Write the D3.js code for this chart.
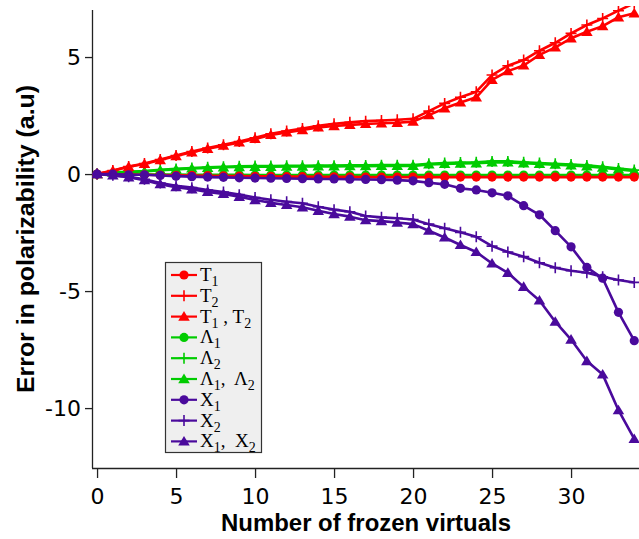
<!DOCTYPE html>
<html><head><meta charset="utf-8">
<script src="https://cdn.jsdelivr.net/npm/d3@7"></script>
<style>body{margin:0;background:#fff}svg{display:block}</style>
</head><body><svg id="c" width="639" height="539"></svg>
<script>
const xs = d3.range(0, 35);
const xTicks = [0, 5, 10, 15, 20, 25, 30];
const yTicks = [-10, -5, 0, 5];

const T1 = [0,-0.01,-0.02,-0.03,-0.04,-0.05,-0.06,-0.07,-0.08,-0.09,-0.1,-0.1,-0.11,-0.11,-0.12,-0.12,-0.12,-0.13,-0.13,-0.13,-0.13,-0.13,-0.13,-0.13,-0.13,-0.13,-0.13,-0.13,-0.13,-0.13,-0.13,-0.13,-0.13,-0.13,-0.13];
const T2 = [0,0.15,0.32,0.45,0.62,0.79,0.96,1.11,1.25,1.39,1.55,1.72,1.84,1.95,2.06,2.15,2.21,2.26,2.29,2.32,2.36,2.69,3.02,3.28,3.52,4.23,4.63,4.87,5.27,5.61,6.01,6.37,6.65,6.98,7.3];
const T12 = [0,0.14,0.31,0.43,0.6,0.77,0.93,1.08,1.21,1.35,1.5,1.67,1.78,1.88,1.99,2.05,2.1,2.14,2.17,2.19,2.24,2.52,2.81,3.06,3.28,4.02,4.4,4.64,5.09,5.41,5.8,6.08,6.32,6.7,6.87];
const L1 = [0,-0.01,-0.01,-0.02,-0.02,-0.02,-0.03,-0.03,-0.03,-0.03,-0.04,-0.04,-0.04,-0.04,-0.04,-0.04,-0.04,-0.04,-0.04,-0.04,-0.04,-0.04,-0.04,-0.04,-0.04,-0.04,-0.04,-0.04,-0.04,-0.04,-0.04,-0.04,-0.04,-0.04,-0.04];
const L2 = [0,0.07,0.1,0.13,0.18,0.22,0.26,0.29,0.31,0.33,0.34,0.34,0.35,0.35,0.36,0.36,0.37,0.37,0.38,0.38,0.38,0.44,0.47,0.49,0.5,0.54,0.54,0.5,0.47,0.44,0.41,0.37,0.31,0.24,0.17];
const L12 = [0,0.06,0.09,0.11,0.16,0.2,0.24,0.26,0.29,0.3,0.31,0.31,0.32,0.32,0.33,0.33,0.34,0.34,0.35,0.35,0.35,0.41,0.43,0.45,0.46,0.5,0.5,0.46,0.43,0.4,0.37,0.33,0.27,0.2,0.13];
const X1 = [0,0,-0.03,-0.03,-0.06,-0.09,-0.11,-0.13,-0.14,-0.16,-0.17,-0.18,-0.19,-0.2,-0.21,-0.21,-0.22,-0.23,-0.24,-0.26,-0.29,-0.37,-0.44,-0.61,-0.68,-0.8,-0.93,-1.35,-1.74,-2.42,-3.11,-3.99,-4.45,-5.91,-7.12];
const X2 = [0,-0.05,-0.12,-0.22,-0.38,-0.5,-0.58,-0.68,-0.77,-0.88,-1.0,-1.1,-1.18,-1.25,-1.4,-1.52,-1.61,-1.79,-1.85,-1.89,-1.94,-2.14,-2.32,-2.49,-2.68,-3.08,-3.33,-3.53,-3.79,-4.0,-4.13,-4.22,-4.39,-4.53,-4.63];
const X12 = [0,-0.06,-0.14,-0.26,-0.43,-0.56,-0.65,-0.76,-0.85,-0.97,-1.11,-1.23,-1.32,-1.42,-1.57,-1.71,-1.82,-1.97,-2.01,-2.07,-2.14,-2.42,-2.71,-3.03,-3.33,-3.82,-4.22,-4.82,-5.4,-6.31,-7.07,-7.99,-8.56,-10.09,-11.32];

const RED = "#ff0000", GREEN = "#00cc00", PURPLE = "#4a0a9c";
const series = [
  {name:["T","1"], vals:T1, color:RED, marker:"circle"},
  {name:["T","2"], vals:T2, color:RED, marker:"plus"},
  {name:["T","1"," , ","T","2"], vals:T12, color:RED, marker:"triangle"},
  {name:["Λ","1"], vals:L1, color:GREEN, marker:"circle"},
  {name:["Λ","2"], vals:L2, color:GREEN, marker:"plus"},
  {name:["Λ","1",",  ","Λ","2"], vals:L12, color:GREEN, marker:"triangle"},
  {name:["X","1"], vals:X1, color:PURPLE, marker:"circle"},
  {name:["X","2"], vals:X2, color:PURPLE, marker:"plus"},
  {name:["X","1",",  ","X","2"], vals:X12, color:PURPLE, marker:"triangle"}
];
const drawOrder = [3,4,5,0,1,2,6,7,8];

const svg = d3.select("#c");
const L = 92, R = 639, T = 10, B = 468;
const x = d3.scaleLinear().domain([-0.32, 34.3]).range([L, R]);
const y = d3.scaleLinear().domain([-12.56, 7.01]).range([B, T]);

svg.append("defs").append("clipPath").attr("id","clip")
  .append("rect").attr("x", L).attr("y", 6).attr("width", R - L).attr("height", B - 6);

// axes
const xAxis = svg.append("g").attr("transform", `translate(0,${B})`)
  .call(d3.axisBottom(x).tickValues(xTicks).tickSize(10).tickPadding(10).tickSizeOuter(0).tickFormat(d => String(d)));
const yAxis = svg.append("g").attr("transform", `translate(${L},0)`)
  .call(d3.axisLeft(y).tickValues(yTicks).tickSize(7).tickPadding(4).tickSizeOuter(0).tickFormat(d => String(d)));
[xAxis, yAxis].forEach(g => {
  g.select(".domain").attr("stroke", "#222").attr("stroke-width", 1.3);
  g.selectAll(".tick line").attr("stroke", "#222").attr("stroke-width", 1.3);
  g.selectAll(".tick text").attr("font-family", "'DejaVu Sans', sans-serif")
    .attr("font-size", 22).attr("fill", "#000");
});
xAxis.select(".domain").attr("d", `M${L},0.5H${R}`);
yAxis.select(".domain").attr("d", `M0.5,${T}V${B}`);

svg.append("text").attr("x", 366).attr("y", 531).attr("text-anchor","middle")
  .attr("font-family","'Liberation Sans Narrow','Liberation Sans',Arial,sans-serif")
  .attr("font-weight","bold").attr("font-size", 24)
  .attr("textLength", 290).attr("lengthAdjust","spacingAndGlyphs")
  .text("Number of frozen virtuals");
svg.append("text").attr("transform","translate(34,239) rotate(-90)").attr("text-anchor","middle")
  .attr("font-family","'Liberation Sans Narrow','Liberation Sans',Arial,sans-serif")
  .attr("font-weight","bold").attr("font-size", 24)
  .attr("textLength", 308).attr("lengthAdjust","spacingAndGlyphs")
  .text("Error in polarizability (a.u)");

function drawMarker(g, type, cx, cy, color, scale) {
  const s = scale || 1;
  if (type === "circle") {
    g.append("circle").attr("cx", cx).attr("cy", cy).attr("r", 4.6 * s).attr("fill", color);
  } else if (type === "triangle") {
    const h = 5.5 * s;
    g.append("path").attr("d", `M${cx},${cy - h}L${cx + h * 1.05},${cy + h * 0.75}L${cx - h * 1.05},${cy + h * 0.75}Z`).attr("fill", color);
  } else {
    const h = 5.5 * s;
    g.append("path").attr("d", `M${cx - h},${cy}H${cx + h}M${cx},${cy - h}V${cy + h}`)
      .attr("stroke", color).attr("stroke-width", 1.6).attr("fill","none");
  }
}

const plot = svg.append("g").attr("clip-path", "url(#clip)");
const line = d3.line().x((d, i) => x(xs[i])).y(d => y(d));
drawOrder.forEach(k => {
  const s = series[k];
  const g = plot.append("g");
  g.append("path").attr("d", line(s.vals)).attr("fill","none").attr("stroke", s.color)
    .attr("stroke-width", 2.6).attr("stroke-linejoin","round");
  s.vals.forEach((v, i) => drawMarker(g, s.marker, x(xs[i]), y(v), s.color));
});

// legend
const lg = svg.append("g");
lg.append("rect").attr("x", 165.5).attr("y", 262.5).attr("width", 96).attr("height", 190)
  .attr("fill", "#efefef").attr("stroke", "#333").attr("stroke-width", 1.2);
series.forEach((s, i) => {
  const cy = 275 + i * 20.8;
  lg.append("line").attr("x1", 171).attr("x2", 197).attr("y1", cy).attr("y2", cy)
    .attr("stroke", s.color).attr("stroke-width", 2.2);
  drawMarker(lg, s.marker, 184, cy, s.color, 1);
  const t = lg.append("text").attr("x", 200).attr("y", cy + 6)
    .attr("font-family", "'Liberation Serif','DejaVu Serif',serif").attr("font-size", 19).attr("fill","#000");
  let shifted = false;
  s.name.forEach(part => {
    const isSub = (part === "1" || part === "2");
    const ts = t.append("tspan").text(part).attr("xml:space","preserve");
    if (isSub) { ts.attr("font-size", 14); if (!shifted) { ts.attr("dy", 5); shifted = true; } }
    else if (shifted) { ts.attr("dy", -5); shifted = false; }
  });
});
</script></body></html>
